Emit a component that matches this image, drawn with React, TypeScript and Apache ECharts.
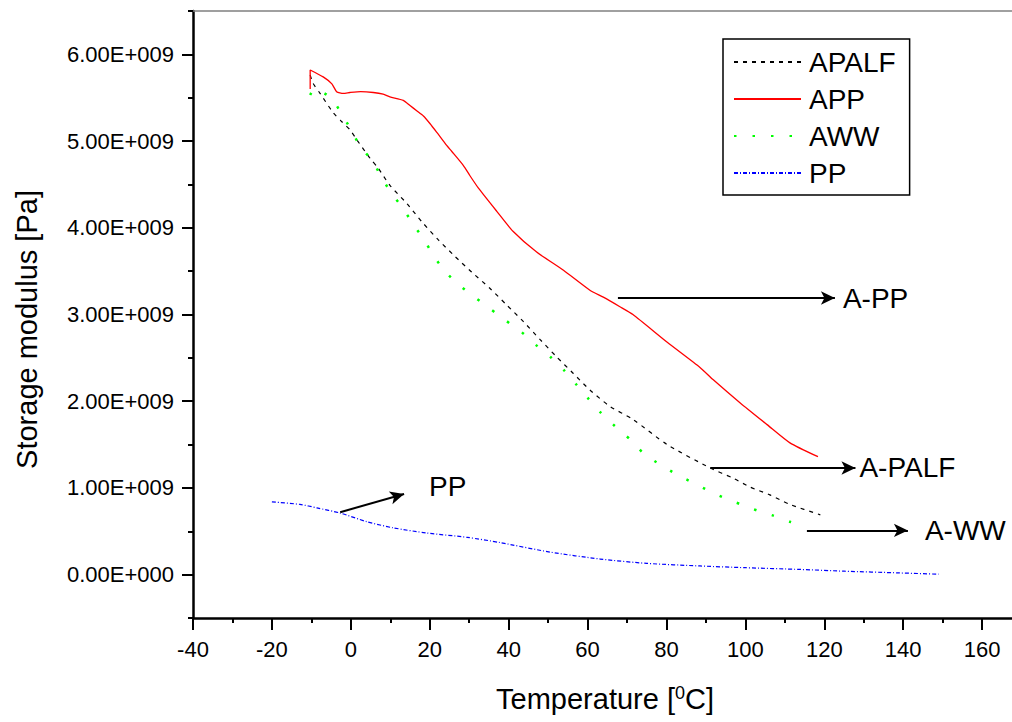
import React, { useEffect, useRef } from "react";
import * as echarts from "echarts";

// ---- data (temperature in °C, storage modulus in Pa) ----
const seriesNames = ["APALF", "APP", "AWW", "PP"];

const apalf: number[][] = [
  [-10.3, 5.76e9], [-9.6, 5.67e9], [-7.8, 5.55e9], [-4.5, 5.33e9], [-2.2, 5.22e9],
  [-0.2, 5.13e9], [1.6, 5.01e9], [4.9, 4.80e9], [6.9, 4.69e9], [9.9, 4.49e9],
  [14.2, 4.28e9], [18.0, 4.07e9], [22.2, 3.86e9], [26.4, 3.67e9], [30.6, 3.49e9],
  [35.3, 3.30e9], [39.5, 3.11e9], [43.7, 2.92e9], [48.0, 2.71e9], [52.2, 2.51e9],
  [56.4, 2.32e9], [60.6, 2.13e9], [65.7, 1.94e9], [71.5, 1.79e9], [80.2, 1.50e9],
  [91.1, 1.23e9], [97.0, 1.11e9], [101.2, 1.01e9], [106.2, 0.92e9], [111.3, 0.81e9],
  [119.0, 0.69e9],
];

const app: number[][] = [
  [-10.3, 5.60e9], [-10.3, 5.82e9], [-7.0, 5.74e9], [-4.8, 5.66e9], [-3.6, 5.57e9],
  [-1.9, 5.55e9], [-0.2, 5.56e9], [2.5, 5.57e9], [5.7, 5.56e9], [8.2, 5.54e9],
  [9.9, 5.51e9], [13.3, 5.47e9], [15.0, 5.41e9], [16.7, 5.35e9], [18.4, 5.29e9],
  [20.1, 5.20e9], [21.8, 5.10e9], [24.3, 4.95e9], [25.6, 4.88e9], [28.5, 4.72e9],
  [30.2, 4.60e9], [32.3, 4.46e9], [37.0, 4.19e9], [41.1, 3.96e9], [47.1, 3.72e9],
  [53.9, 3.51e9], [60.6, 3.28e9], [64.0, 3.20e9], [68.2, 3.09e9], [71.5, 3.00e9],
  [80.2, 2.68e9], [88.5, 2.39e9], [91.8, 2.25e9], [98.7, 1.98e9], [105.5, 1.73e9],
  [111.3, 1.52e9], [118.4, 1.36e9],
];

const aww: number[][] = [
  [-10.3, 5.53e9], [-9.25, 5.60e9], [-5.1, 5.50e9], [-2.4, 5.32e9], [0.05, 5.13e9],
  [2.5, 4.93e9], [5.55, 4.77e9], [7.65, 4.59e9], [10.3, 4.40e9], [13.3, 4.22e9],
  [15.8, 4.04e9], [18.6, 3.86e9], [21.1, 3.67e9], [24.0, 3.49e9], [27.7, 3.33e9],
  [31.7, 3.19e9], [35.5, 3.06e9], [39.3, 2.93e9], [43.2, 2.80e9], [46.9, 2.65e9],
  [50.6, 2.51e9], [54.2, 2.35e9], [57.2, 2.19e9], [60.2, 2.03e9], [63.3, 1.87e9],
  [67.0, 1.71e9], [70.8, 1.56e9], [74.4, 1.39e9], [78.4, 1.27e9], [82.4, 1.16e9],
  [86.7, 1.06e9], [90.6, 0.97e9], [94.9, 0.88e9], [98.9, 0.81e9], [103.0, 0.74e9],
  [107.1, 0.68e9], [111.3, 0.61e9], [115.6, 0.56e9],
];

const pp: number[][] = [
  [-20, 0.84e9], [-12.9, 0.81e9], [-8.6, 0.77e9], [-2.7, 0.71e9], [4.1, 0.61e9],
  [10.7, 0.54e9], [19.3, 0.48e9], [29.5, 0.43e9], [37.8, 0.37e9], [50.5, 0.26e9],
  [63.2, 0.18e9], [75, 0.13e9], [88.5, 0.10e9], [100, 0.08e9], [113.9, 0.06e9],
  [125, 0.04e9], [139, 0.02e9], [149, 0.005e9],
];

// annotation arrows: start, end (data coords) and label
const arrowLabels = ["A-PP", "A-PALF", "A-WW", "PP"];
const arrowStarts: number[][] = [[67.7, 3.19e9], [91.1, 1.23e9], [115.6, 0.51e9], [-2.7, 0.72e9]];
const arrowEnds: number[][] = [[122.7, 3.19e9], [127.9, 1.23e9], [141.2, 0.51e9], [13.5, 0.93e9]];
const arrowLabelGap = [8, 4, 17, 26];

// axis ranges / ticks
const xMin = -40, xMax = 180, xStep = 20;
const yMin = -0.5e9, yMax = 6.5e9, yMinorStep = 0.5e9;

const FONT = "'Liberation Sans', Arial, Helvetica, sans-serif";

function sci(v: number): string {
  if (v === 0) return "0.00E+000";
  const e = Math.floor(Math.log10(Math.abs(v)) + 1e-9);
  const m = v / Math.pow(10, e);
  return m.toFixed(2) + "E" + (e >= 0 ? "+" : "-") + String(Math.abs(e)).padStart(3, "0");
}

export default function App() {
  const ref = useRef<HTMLDivElement>(null);
  useEffect(() => {
    if (!ref.current) return;
    const chart = echarts.init(ref.current, undefined, { renderer: "svg" });
    const markData = arrowStarts.map((s, i) => [
      { coord: s },
      {
        coord: arrowEnds[i],
        label: {
          show: true,
          position: "end",
          formatter: arrowLabels[i],
          distance: arrowLabelGap[i],
          fontSize: 28,
          color: "#000",
          fontFamily: FONT,
        },
      },
    ]);
    const lineBase = { type: "line", symbol: "none", showSymbol: false, smooth: 0.25 };
    chart.setOption({
      animation: false,
      textStyle: { fontFamily: FONT, color: "#000" },
      grid: { left: 193, top: 11, width: 868, height: 607, containLabel: false, outerBoundsMode: "none" },
      legend: {
        data: seriesNames,
        orient: "vertical",
        left: 723,
        top: 39,
        itemWidth: 67,
        itemHeight: 14,
        itemGap: 9,
        padding: [9, 14, 8, 10],
        borderColor: "#000",
        borderWidth: 1.5,
        selectedMode: false,
        itemStyle: { opacity: 0 },
        textStyle: { fontSize: 28, lineHeight: 28, color: "#000", fontFamily: FONT, padding: [0, 0, 0, 3] },
      },
      xAxis: [
        {
          type: "value",
          min: xMin,
          max: xMax,
          interval: xStep,
          position: "bottom",
          name: "Temperature [{sup|0}C]",
          nameLocation: "middle",
          nameGap: 66,
          nameTextStyle: {
            fontSize: 29,
            color: "#000",
            fontFamily: FONT,
            padding: [0, 44, 0, 0],
            rich: { sup: { fontSize: 18, verticalAlign: "top", lineHeight: 18, color: "#000", fontFamily: FONT } },
          },
          axisLine: { show: true, onZero: false, lineStyle: { color: "#000", width: 2.5 } },
          axisTick: { show: true, inside: false, length: 12, lineStyle: { color: "#000", width: 2 } },
          minorTick: { show: true, splitNumber: 2, length: 5, lineStyle: { color: "#000", width: 2 } },
          axisLabel: { fontSize: 22, color: "#000", margin: 20, showMaxLabel: false, fontFamily: FONT },
          splitLine: { show: false },
        },
        {
          type: "value",
          min: xMin,
          max: xMax,
          interval: xStep,
          position: "top",
          axisLine: { show: true, onZero: false, lineStyle: { color: "#808080", width: 1.5 } },
          axisTick: { show: false },
          axisLabel: { show: false },
          splitLine: { show: false },
        },
      ],
      yAxis: [
        {
          type: "value",
          min: yMin,
          max: yMax,
          interval: yMinorStep,
          position: "left",
          axisLine: { show: true, onZero: false, lineStyle: { color: "#000", width: 2.5 } },
          axisTick: { show: true, length: 5, lineStyle: { color: "#000", width: 2 } },
          axisLabel: { show: false },
          splitLine: { show: false },
        },
        {
          type: "value",
          min: yMin,
          max: yMax,
          splitNumber: 7,
          position: "left",
          name: "Storage modulus [Pa]",
          nameLocation: "middle",
          nameGap: 152,
          nameTextStyle: { fontSize: 29, color: "#000", fontFamily: FONT, padding: [0, 30, 0, 0] },
          axisLine: { show: false, onZero: false },
          axisTick: { show: true, length: 11, lineStyle: { color: "#000", width: 2 } },
          axisLabel: {
            fontSize: 22,
            color: "#000",
            margin: 19,
            showMinLabel: false,
            showMaxLabel: false,
            fontFamily: FONT,
            formatter: (v: number) => sci(v),
          },
          splitLine: { show: false },
        },
      ],
      series: [
        {
          ...lineBase,
          name: "APALF",
          data: apalf,
          itemStyle: { color: "#000" },
          lineStyle: { color: "#000", width: 1.2, type: [4, 5] },
        },
        {
          ...lineBase,
          name: "APP",
          data: app,
          smooth: 0.2,
          itemStyle: { color: "#ff0000" },
          lineStyle: { color: "#ff0000", width: 1.3, type: "solid" },
        },
        {
          ...lineBase,
          name: "AWW",
          data: aww,
          itemStyle: { color: "#00ff00" },
          lineStyle: { color: "#00ff00", width: 2.5, type: [2.5, 16], cap: "butt" },
        },
        {
          ...lineBase,
          name: "PP",
          data: pp,
          itemStyle: { color: "#0000ff" },
          lineStyle: { color: "#0000ff", width: 1.2, type: [4, 2, 1, 2] },
          markLine: {
            silent: true,
            animation: false,
            symbol: ["none", "arrow"],
            symbolSize: [10, 14],
            lineStyle: { color: "#000", width: 2, type: "solid" },
            emphasis: { disabled: true },
            label: { show: false },
            data: markData,
          },
        },
      ],
    });
    return () => chart.dispose();
  }, []);
  return (
    <div
      ref={ref}
      style={{ position: "absolute", left: 0, top: 0, width: 1012, height: 722, background: "#fff" }}
    />
  );
}
